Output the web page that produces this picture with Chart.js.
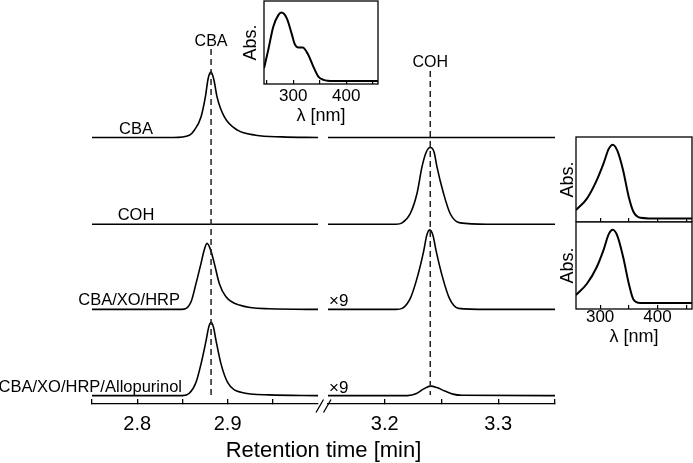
<!DOCTYPE html>
<html>
<head>
<meta charset="utf-8">
<script src="https://cdn.jsdelivr.net/npm/chart.js@4.4.1/dist/chart.umd.min.js"></script>
<style>
  html, body { margin: 0; padding: 0; background: #fff; }
  #wrap { position: relative; width: 693px; height: 463px; overflow: hidden; }
  #wrap canvas { position: absolute; }
</style>
</head>
<body>
<div id="wrap">
  <canvas id="mainLeft" width="693" height="463" style="left:0;top:0"></canvas>
  <canvas id="mainRight" width="280" height="463" style="left:300px;top:0"></canvas>
  <canvas id="specTop" width="145" height="130" style="left:239px;top:0"></canvas>
  <canvas id="specRightA" width="137" height="87" style="left:556px;top:135px"></canvas>
  <canvas id="specRightB" width="137" height="131" style="left:556px;top:220px"></canvas>
</div>
<script>
// chromatograms, signal in a.u. above each trace's baseline
const traceNames = ['CBA', 'COH', 'CBA/XO/HRP', 'CBA/XO/HRP/Allopurinol'];
const traceBaselines = [266.5, 179.8, 94.6, 8.4];
const peakNames = ['CBA', 'COH'];
const peakTimes = [2.8817, 3.2401];

// left window, 2.75 - 3.00 min
const cbaLeftTime = [2.75, 2.84, 2.8577, 2.8632, 2.8706, 2.8754, 2.8785, 2.8817, 2.885, 2.8883, 2.8964, 2.911, 2.931, 2.96, 3.0];
const cbaLeftSignal = [0, 0, 2.3, 7.3, 20.6, 40.6, 59, 65.6, 57, 40.6, 20.6, 7.3, 2.3, 0.6, 0];
const cohLeftTime = [2.75, 3.0];
const cohLeftSignal = [0, 0];
const hrpLeftTime = [2.75, 2.845, 2.852, 2.8596, 2.8651, 2.8706, 2.874, 2.8773, 2.881, 2.8853, 2.8908, 2.8982, 2.913, 2.946, 3.0];
const hrpLeftSignal = [0, 0, 0.3, 7.6, 26, 46, 59, 66, 60, 46, 26, 12.6, 4.3, 0.6, 0];
const alloLeftTime = [2.75, 2.85, 2.8577, 2.8651, 2.8706, 2.8762, 2.879, 2.8817, 2.8845, 2.8872, 2.8927, 2.9, 2.9148, 2.946, 3.0];
const alloLeftSignal = [0, 0, 2.3, 13.3, 31.7, 55, 68, 73.3, 68, 55, 31.7, 13.3, 3.3, 0.7, 0];

// right window, 3.15 - 3.35 min (x9 for the last two)
const cbaRightTime = [3.15, 3.35];
const cbaRightSignal = [0, 0];
const cohRightTime = [3.15, 3.21, 3.2153, 3.2225, 3.2284, 3.2328, 3.2365, 3.2401, 3.2435, 3.246, 3.2518, 3.2576, 3.2664, 3.29, 3.35];
const cohRightSignal = [0, 0, 1.3, 10.7, 30.7, 57.3, 72, 76.7, 72, 57.3, 30.7, 10.7, 1.3, 0, 0];
const hrpRightTime = [3.15, 3.21, 3.2153, 3.2225, 3.2284, 3.2342, 3.237, 3.2395, 3.2425, 3.2454, 3.2512, 3.257, 3.2649, 3.29, 3.35];
const hrpRightSignal = [0, 0, 1, 11, 31, 57.8, 74, 79.5, 74, 57.8, 31, 11, 1, 0, 0];
const alloRightTime = [3.15, 3.22, 3.228, 3.234, 3.2405, 3.246, 3.253, 3.26, 3.268, 3.35];
const alloRightSignal = [0, 0, 2, 6.5, 9.5, 8, 4.5, 1.5, 0.3, 0];

const leftTicks = [2.75, 2.8, 2.85, 2.9, 2.95];
const leftTickLabels = [2.8, 2.9];
const rightTicks = [3.2, 3.25, 3.3, 3.35];
const rightTickLabels = [3.2, 3.3];

// UV spectra
const specTopWavelength = [245, 253, 262.5, 272, 278, 288, 297, 303, 310, 318, 327, 338, 347.5, 357, 376, 460];
const specTopAbs = [0.19, 0.41, 0.69, 0.83, 0.86, 0.79, 0.61, 0.48, 0.44, 0.44, 0.37, 0.21, 0.09, 0.05, 0.036, 0.036];
const specRightWavelength = [258, 277, 294, 306, 315, 322, 330, 340, 350, 358, 370, 405, 460];
const specRightAAbs = [0.14, 0.275, 0.49, 0.69, 0.86, 0.91, 0.84, 0.61, 0.29, 0.12, 0.05, 0.04, 0.04];
const specRightBAbs = [0.16, 0.29, 0.48, 0.68, 0.86, 0.91, 0.84, 0.6, 0.29, 0.11, 0.07, 0.07, 0.07];
const specTopTicks = [250, 300, 350, 400, 450];
const specRightTicks = [300, 350, 400, 450];
const specTickLabels = [300, 400];

Chart.defaults.font.family = '"Liberation Sans", Arial, sans-serif';
Chart.defaults.color = '#000';
Chart.defaults.animation = false;

const FONT = '"Liberation Sans", Arial, sans-serif';

const toPoints = (times, values, base) => times.map((t, i) => ({ x: t, y: base + values[i] }));

const traceDataset = (times, values, base) => ({
    data: toPoints(times, values, base),
    borderColor: '#000',
    borderWidth: 1.6,
    pointRadius: 0,
    fill: false,
    cubicInterpolationMode: 'monotone'
});

const mainOptions = (min, max, ticks, labelled, padding) => ({
    responsive: false,
    devicePixelRatio: 1,
    layout: { padding: padding },
    plugins: { legend: { display: false }, tooltip: { enabled: false } },
    scales: {
        x: {
            type: 'linear',
            min: min,
            max: max,
            afterBuildTicks: (scale) => { scale.ticks = ticks.map(v => ({ value: v })); },
            afterFit: (scale) => { scale.height = 59; },
            ticks: {
                autoSkip: false,
                maxRotation: 0,
                padding: 13,
                font: { size: 20 },
                callback: (v) => labelled.includes(v) ? v.toFixed(1) : ''
            },
            grid: { drawOnChartArea: false, tickLength: -5, color: '#000', lineWidth: 1.3 },
            border: { color: '#000', width: 1.3 }
        },
        y: { display: false, min: 0, max: 404 }
    }
});

function dashedMarker(ctx, px, top, bottom, label, labelY) {
    ctx.save();
    ctx.strokeStyle = '#222';
    ctx.lineWidth = 1.5;
    ctx.setLineDash([6, 4]);
    ctx.beginPath();
    ctx.moveTo(px, top);
    ctx.lineTo(px, bottom);
    ctx.stroke();
    ctx.setLineDash([]);
    ctx.fillStyle = '#000';
    ctx.font = '16px ' + FONT;
    ctx.textAlign = 'center';
    ctx.textBaseline = 'alphabetic';
    ctx.fillText(label, px, labelY);
    ctx.restore();
}

const leftAnnotations = {
    id: 'leftAnnotations',
    afterDatasetsDraw(chart) {
        const { ctx, scales: { x, y } } = chart;
        const labelX = [136, 136, 180, 182];
        const labelAlign = ['center', 'center', 'right', 'right'];
        ctx.save();
        ctx.fillStyle = '#000';
        ctx.font = '16.5px ' + FONT;
        ctx.textBaseline = 'alphabetic';
        traceNames.forEach((name, i) => {
            ctx.textAlign = labelAlign[i];
            ctx.fillText(name, labelX[i], y.getPixelForValue(traceBaselines[i]) - 4);
        });
        ctx.restore();

        dashedMarker(ctx, x.getPixelForValue(peakTimes[0]), 49, 396, peakNames[0], 46);

        // axis break
        ctx.save();
        ctx.strokeStyle = '#000';
        ctx.lineWidth = 1.3;
        ctx.beginPath();
        ctx.moveTo(316, 412.5); ctx.lineTo(323.5, 399.5);
        ctx.moveTo(323.5, 412.5); ctx.lineTo(331, 399.5);
        ctx.stroke();

        ctx.fillStyle = '#000';
        ctx.font = '22px ' + FONT;
        ctx.textAlign = 'center';
        ctx.fillText('Retention time [min]', 323.5, 457);
        ctx.restore();
    }
};

const rightAnnotations = {
    id: 'rightAnnotations',
    afterDatasetsDraw(chart) {
        const { ctx, scales: { x, y } } = chart;
        dashedMarker(ctx, x.getPixelForValue(peakTimes[1]), 71, 395, peakNames[1], 66.5);
        ctx.save();
        ctx.fillStyle = '#000';
        ctx.font = '17px ' + FONT;
        ctx.textAlign = 'left';
        [2, 3].forEach(i => {
            ctx.fillText('\u00d79', chart.chartArea.left + 1, y.getPixelForValue(traceBaselines[i]) - 3);
        });
        ctx.restore();
    }
};

new Chart(document.getElementById('mainLeft'), {
    type: 'line',
    data: {
        datasets: [
            traceDataset(cbaLeftTime, cbaLeftSignal, traceBaselines[0]),
            traceDataset(cohLeftTime, cohLeftSignal, traceBaselines[1]),
            traceDataset(hrpLeftTime, hrpLeftSignal, traceBaselines[2]),
            traceDataset(alloLeftTime, alloLeftSignal, traceBaselines[3])
        ]
    },
    options: mainOptions(2.75, 3.0, leftTicks, leftTickLabels, { left: 92, right: 375, top: 0, bottom: 0 }),
    plugins: [leftAnnotations]
});

new Chart(document.getElementById('mainRight'), {
    type: 'line',
    data: {
        datasets: [
            traceDataset(cbaRightTime, cbaRightSignal, traceBaselines[0]),
            traceDataset(cohRightTime, cohRightSignal, traceBaselines[1]),
            traceDataset(hrpRightTime, hrpRightSignal, traceBaselines[2]),
            traceDataset(alloRightTime, alloRightSignal, traceBaselines[3])
        ]
    },
    options: mainOptions(3.15, 3.35, rightTicks, rightTickLabels, { left: 28, right: 25, top: 0, bottom: 0 }),
    plugins: [rightAnnotations]
});

// spectra insets
const boxPlugin = {
    id: 'box',
    afterDatasetsDraw(chart) {
        const { ctx, chartArea: a } = chart;
        ctx.save();
        ctx.strokeStyle = '#000';
        ctx.lineWidth = 1.3;
        ctx.strokeRect(a.left, a.top, a.right - a.left, a.bottom - a.top);
        ctx.restore();
    }
};

function spectrumChart(id, wl, abs, opts) {
    return new Chart(document.getElementById(id), {
        type: 'line',
        data: {
            datasets: [{
                data: wl.map((w, i) => ({ x: w, y: abs[i] })),
                borderColor: '#000',
                borderWidth: 2,
                pointRadius: 0,
                fill: false,
                cubicInterpolationMode: 'monotone'
            }]
        },
        options: {
            responsive: false,
            devicePixelRatio: 1,
            layout: { padding: opts.padding },
            plugins: { legend: { display: false }, tooltip: { enabled: false } },
            scales: {
                x: {
                    type: 'linear',
                    min: opts.min,
                    max: opts.max,
                    afterBuildTicks: (scale) => { scale.ticks = opts.ticks.map(v => ({ value: v })); },
                    afterFit: (scale) => { scale.height = opts.xHeight; },
                    ticks: {
                        autoSkip: false,
                        maxRotation: 0,
                        padding: opts.tickPad,
                        font: { size: 17 },
                        callback: (v) => opts.showLabels && specTickLabels.includes(v) ? String(v) : ''
                    },
                    grid: { drawOnChartArea: false, tickLength: -4, color: '#000', lineWidth: 1.2 },
                    border: { display: false },
                    title: {
                        display: opts.showLabels,
                        text: '\u03bb [nm]',
                        font: { size: 18 },
                        padding: { top: 0, bottom: 3 }
                    }
                },
                y: {
                    min: 0,
                    max: 1,
                    afterFit: (scale) => { scale.width = opts.yWidth; },
                    ticks: { display: false },
                    grid: { display: false },
                    border: { display: false },
                    title: { display: true, text: 'Abs.', font: { size: 18 }, padding: 1 }
                }
            }
        },
        plugins: [boxPlugin]
    });
}

spectrumChart('specTop', specTopWavelength, specTopAbs, {
    min: 245, max: 460, ticks: specTopTicks, showLabels: true,
    padding: { left: 0, top: 1, right: 6, bottom: 0 }, xHeight: 46, yWidth: 25, tickPad: 6
});
spectrumChart('specRightA', specRightWavelength, specRightAAbs, {
    min: 258, max: 460, ticks: specRightTicks, showLabels: false,
    padding: { left: 0, top: 2, right: 1, bottom: 0 }, xHeight: 0, yWidth: 20, tickPad: 4
});
spectrumChart('specRightB', specRightWavelength, specRightBAbs, {
    min: 258, max: 460, ticks: specRightTicks, showLabels: true,
    padding: { left: 0, top: 2, right: 1, bottom: 0 }, xHeight: 42, yWidth: 20, tickPad: 2
});
</script>
</body>
</html>
